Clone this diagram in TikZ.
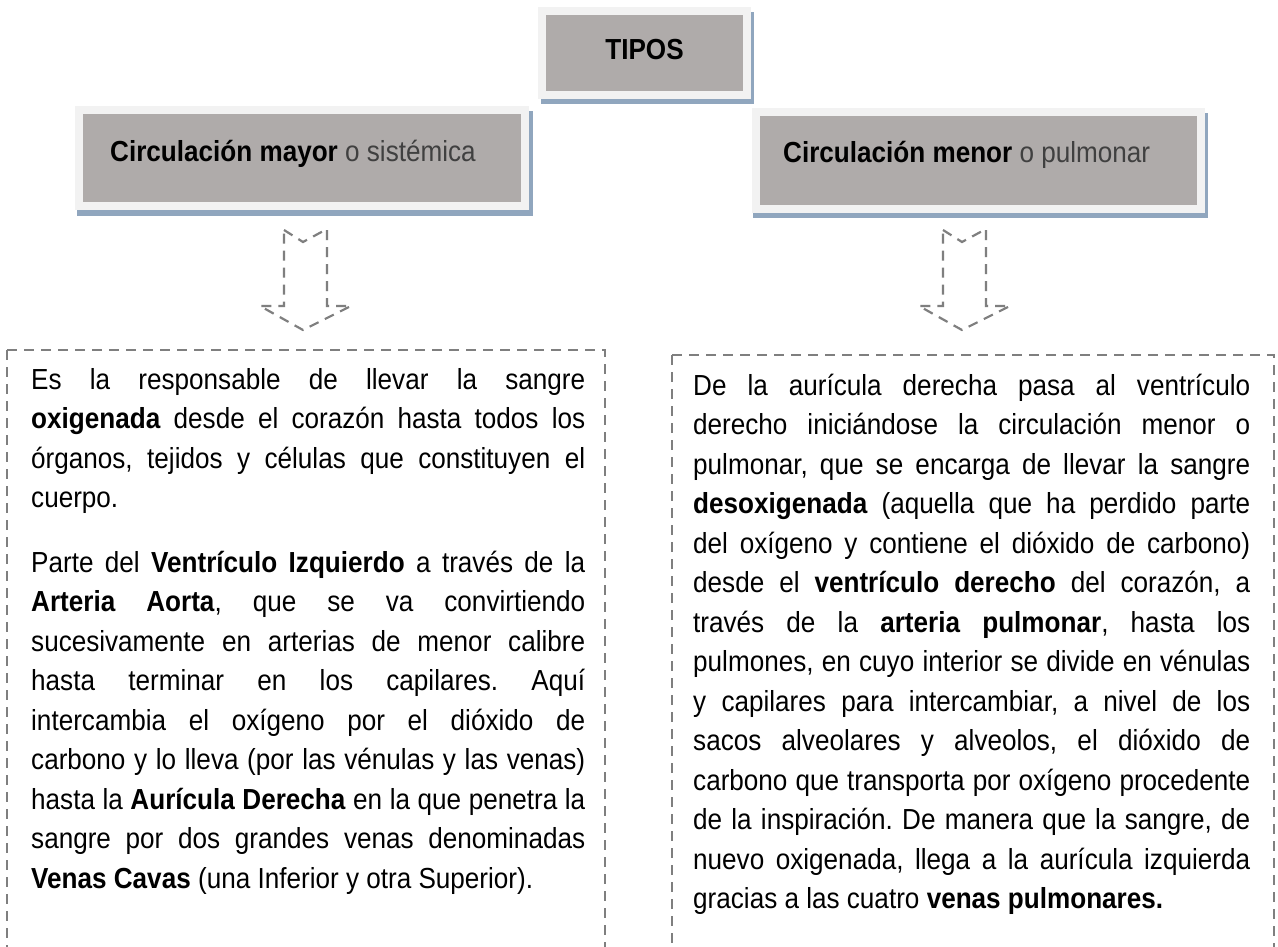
\documentclass[tikz,border=0pt]{standalone}
\usepackage{fontspec}
\setmainfont{Liberation Sans}[FakeStretch=0.9]
\usetikzlibrary{backgrounds}
\definecolor{boxgray}{HTML}{AFABAA}
\definecolor{framegray}{HTML}{F2F2F2}
\definecolor{shadowblue}{HTML}{90A6BE}
\definecolor{dashgray}{HTML}{7F7F7F}
\definecolor{subgray}{HTML}{404040}
\setlength{\parindent}{0pt}
\tolerance=10000
\hbadness=10000
\hyphenpenalty=10000
\exhyphenpenalty=10000
\frenchspacing
\tikzset{
  hdrbox/.style={draw=framegray, line width=8pt, fill=boxgray, inner sep=0pt},
  shadowfill/.style={fill=shadowblue, draw=none},
  hdrtext/.style={anchor=base west, inner sep=0pt, font=\fontsize{29}{35}\selectfont},
  dashline/.style={draw=dashgray, line width=2.2pt, dash pattern=on 10pt off 7pt, line join=miter},
  bodytext/.style={anchor=north west, inner sep=0pt, align=justify, font=\fontsize{29}{39.5}\selectfont\frenchspacing}
}
\begin{document}
\begin{tikzpicture}[x=1pt, y=-1pt]
\useasboundingbox (0,0) rectangle (1278,947);
\clip (0,0) rectangle (1278,947);

% header boxes
\node[hdrbox, minimum width=205pt, minimum height=84pt, text depth=7pt,
      font=\fontsize{29}{35}\selectfont\bfseries] (tipos) at (644.5,53) {TIPOS};
\node[hdrbox, minimum width=446pt, minimum height=96pt] (mayor) at (302,158) {};
\node[hdrbox, minimum width=445pt, minimum height=97pt] (menor) at (978.5,160.5) {};

\node[hdrtext] (mayortxt) at (110,162) {\textbf{Circulación mayor} {\color{subgray}o sistémica}};
\node[hdrtext] (menortxt) at (783,163) {\textbf{Circulación menor} {\color{subgray}o pulmonar}};

\begin{pgfonlayer}{background}
  \fill[white] (0,0) rectangle (1278,947);
  \fill[shadowfill] ([shift={(3,5)}]tipos.north west) rectangle ([shift={(3,5)}]tipos.south east);
  \fill[shadowfill] ([shift={(2,5)}]mayor.north west) rectangle ([shift={(4,6)}]mayor.south east);
  \fill[shadowfill] ([shift={(1,5)}]menor.north west) rectangle ([shift={(3,5)}]menor.south east);
\end{pgfonlayer}

% dashed block arrows
\draw[dashline] (284,230) -- (303,242) -- (327,229) -- (327,306) -- (351,306)
   -- (303,330) -- (260,306) -- (284,306) -- cycle;
\begin{scope}[xshift=659pt]
\draw[dashline] (284,230) -- (303,242) -- (327,229) -- (327,306) -- (351,306)
   -- (303,330) -- (260,306) -- (284,306) -- cycle;
\end{scope}

% dashed text frames (open at the bottom of the page)
\coordinate (lt) at (7,350);
\coordinate (rt) at (605,350);
\coordinate (lb) at (7,980);
\coordinate (rb) at (605,980);
\draw[dashline] (lt) -- (lb);
\draw[dashline] (lt) -- (rt) -- (rb);
\coordinate (Lt) at (672,355);
\coordinate (Rt) at (1274,355);
\coordinate (Lb) at (672,980);
\coordinate (Rb) at (1274,980);
\draw[dashline] (Lt) -- (Lb);
\draw[dashline] (Lt) -- (Rt) -- (Rb);

% body texts
\node[bodytext, text width=554pt] (leftbody) at (31,361.35) {\strut Es la responsable de llevar la sangre\linebreak
\textbf{oxigenada} desde el corazón hasta todos los\linebreak
órganos, tejidos y células que constituyen el\linebreak
cuerpo.\par\vspace{25pt}
Parte del \textbf{Ventrículo Izquierdo} a través de la\linebreak
\textbf{Arteria Aorta}, que se va convirtiendo\linebreak
sucesivamente en arterias de menor calibre\linebreak
hasta terminar en los capilares. Aquí\linebreak
intercambia el oxígeno por el dióxido de\linebreak
carbono y lo lleva (por las vénulas y las venas)\linebreak
hasta la \textbf{Aurícula Derecha} en la que penetra la\linebreak
sangre por dos grandes venas denominadas\linebreak
\textbf{Venas Cavas} (una Inferior y otra Superior).};

\node[bodytext, text width=557pt] (rightbody) at (693,367.35) {\strut De la aurícula derecha pasa al ventrículo\linebreak
derecho iniciándose la circulación menor o\linebreak
pulmonar, que se encarga de llevar la sangre\linebreak
\textbf{desoxigenada} (aquella que ha perdido parte\linebreak
del oxígeno y contiene el dióxido de carbono)\linebreak
desde el \textbf{ventrículo derecho} del corazón, a\linebreak
través de la \textbf{arteria pulmonar}, hasta los\linebreak
pulmones, en cuyo interior se divide en vénulas\linebreak
y capilares para intercambiar, a nivel de los\linebreak
sacos alveolares y alveolos, el dióxido de\linebreak
carbono que transporta por oxígeno procedente\linebreak
de la inspiración. De manera que la sangre, de\linebreak
nuevo oxigenada, llega a la aurícula izquierda\linebreak
gracias a las cuatro \textbf{venas pulmonares.}};
\end{tikzpicture}
\end{document}
